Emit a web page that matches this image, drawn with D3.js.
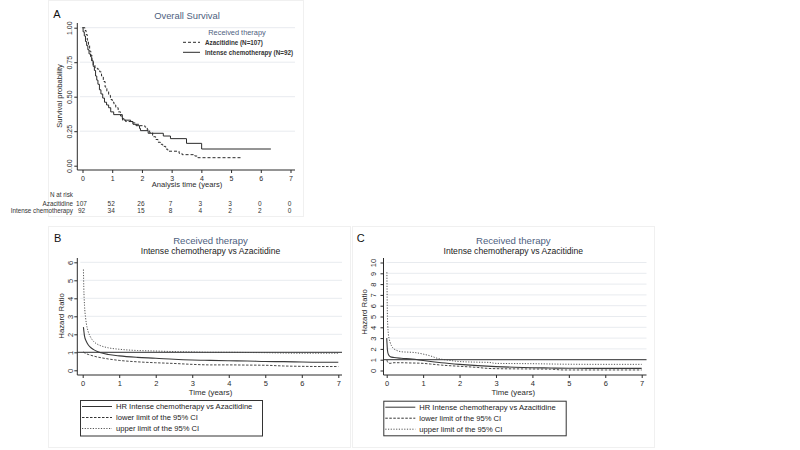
<!DOCTYPE html>
<html><head><meta charset="utf-8">
<script src="https://cdnjs.cloudflare.com/ajax/libs/d3/7.8.5/d3.min.js"></script>
<style>
html,body{margin:0;padding:0;background:#fff;}
svg{display:block;font-family:"Liberation Sans",Arial,sans-serif;}
</style></head>
<body>
<svg id="c" width="800" height="450"></svg>
<script>
// ---------- DATA ----------
// Panel A: Kaplan-Meier survival (time in years, survival probability)
const azaTime = [0,0.05,0.08,0.12,0.16,0.2,0.24,0.28,0.32,0.36,0.42,0.5,0.58,0.64,0.7,0.76,0.82,0.88,0.94,1.0,1.06,1.12,1.2,1.28,1.35,1.45,1.66,1.8,1.94,2.1,2.18,2.26,2.36,2.46,2.54,2.62,2.7,2.8,2.87,3.25,3.35,3.78,3.88,5.33];
const azaSurv = [1,1,0.98,0.95,0.91,0.87,0.83,0.8,0.76,0.73,0.71,0.7,0.68,0.65,0.61,0.57,0.54,0.51,0.48,0.46,0.44,0.42,0.39,0.36,0.33,0.32,0.31,0.3,0.29,0.28,0.26,0.24,0.21,0.19,0.17,0.155,0.14,0.12,0.105,0.09,0.08,0.07,0.058,0.058];
const icTime = [0,0.02,0.06,0.1,0.14,0.18,0.22,0.27,0.31,0.36,0.4,0.44,0.48,0.52,0.57,0.62,0.68,0.74,0.81,0.88,0.95,1.05,1.34,1.4,1.62,1.7,1.8,1.92,1.95,2.21,2.72,2.96,3.5,4.01,6.34];
const icSurv = [1,0.97,0.94,0.9,0.87,0.84,0.81,0.79,0.76,0.72,0.69,0.65,0.62,0.59,0.55,0.52,0.49,0.46,0.44,0.42,0.39,0.37,0.34,0.33,0.32,0.3,0.29,0.27,0.254,0.235,0.215,0.196,0.162,0.121,0.121];
const riskTimes = [0,1,2,3,4,5,6,7];
const riskAza = [107,52,26,7,3,3,0,0];
const riskIC = [92,34,15,8,4,2,2,0];
const yTicksA = [0,0.25,0.5,0.75,1];
const xTicks = [0,1,2,3,4,5,6,7];

// Panel B: hazard ratio over time
const bTime = [0.02,0.05,0.1,0.15,0.2,0.3,0.4,0.5,0.7,1.0,1.5,2.0,2.5,3.0,3.5,4.0,4.5,5.0,5.5,6.0,6.5,7.0];
const bHR   = [2.4,1.9,1.6,1.42,1.3,1.15,1.04,0.97,0.88,0.8,0.72,0.67,0.61,0.57,0.55,0.53,0.52,0.49,0.48,0.46,0.45,0.45];
const bLow  = [1.02,0.97,0.92,0.88,0.85,0.79,0.74,0.7,0.63,0.55,0.47,0.42,0.38,0.33,0.3,0.3,0.29,0.28,0.24,0.22,0.21,0.21];
const bUpTime = [0.02,0.03,0.05,0.08,0.1,0.15,0.2,0.3,0.4,0.5,0.7,1.0,1.5,2.0,2.5,3.0,3.5,4.0,4.5,5.0,5.5,6.0,6.5,7.0];
const bUp   = [5.6,4.6,3.6,2.9,2.6,2.15,1.9,1.6,1.45,1.36,1.25,1.17,1.1,1.07,1.04,1.02,1.0,1.0,0.99,0.98,0.96,0.95,0.95,0.95];
const yTicksB = [0,1,2,3,4,5,6];

// Panel C: hazard ratio over time
const cTime = [0.0,0.01,0.02,0.05,0.1,0.2,0.4,0.7,1.0,1.5,2.0,2.5,3.0,3.5,4.0,4.5,5.0,5.5,6.0,6.5,7.0];
const cHR   = [3.0,2.4,1.9,1.45,1.28,1.2,1.13,1.06,0.92,0.72,0.57,0.45,0.36,0.3,0.26,0.23,0.21,0.2,0.2,0.2,0.2];
const cUpTime = [0.005,0.01,0.015,0.02,0.03,0.045,0.07,0.09,0.13,0.18,0.25,0.32,0.45,0.6,0.8,1.0,1.2,1.4,1.7,2.0,2.5,2.8,3.0,4.0,5.0,6.0,7.0];
const cUp   = [9.1,7.5,6.0,5.0,4.1,3.4,2.9,2.65,2.3,2.05,1.9,1.8,1.72,1.7,1.65,1.52,1.35,1.12,0.95,0.83,0.77,0.75,0.66,0.63,0.58,0.57,0.57];
const cLowTime = [0.005,0.02,0.05,0.09,0.2,0.4,0.6,0.9,1.2,1.5,2.0,2.5,2.75,3.0,4.0,4.5,4.85,5.5,6.0,7.0];
const cLow  = [0.97,0.82,0.7,0.66,0.72,0.72,0.7,0.68,0.6,0.5,0.39,0.28,0.2,0.17,0.14,0.12,0.05,0.05,0.05,0.05];
const yTicksC = [0,1,2,3,4,5,6,7,8,9,10];

const legendB = ["HR Intense chemotherapy vs Azacitidine","lower limit of the 95% CI","upper limit of the 95% CI"];

// ---------- DRAW ----------
const svg = d3.select("#c");
const SLATE = "#4e6180", INK = "#2b2b2b", GRID = "#e8ebef", FRAME = "#f0f0f0";

// faint panel frames
[[48,0,255,216],[48,226,302,221],[352,226,302,221]].forEach(r=>{
  svg.append("rect").attr("x",r[0]+0.5).attr("y",r[1]+0.5).attr("width",r[2]).attr("height",r[3])
    .attr("fill","none").attr("stroke",FRAME);
});

function axes(g, x, y, o){
  g.append("g").selectAll("line").data(o.grid).join("line")
    .attr("x1",o.gx0).attr("x2",o.gx1).attr("y1",d=>y(d)).attr("y2",d=>y(d))
    .attr("stroke",GRID).attr("stroke-width",1);
  const ya = g.append("g").attr("transform",`translate(${o.ax},0)`)
    .call(d3.axisLeft(y).tickValues(o.yTicks).tickSize(3).tickSizeOuter(0).tickFormat(o.yFmt));
  ya.select(".domain").remove();
  ya.selectAll("line").attr("stroke",INK);
  ya.selectAll("text").attr("transform","rotate(-90)").attr("x",0).attr("y",o.yLab).attr("dy",0)
    .style("text-anchor","middle").attr("font-size",o.tfs).attr("fill",INK);
  g.append("line").attr("x1",o.ax).attr("x2",o.ax).attr("y1",o.top).attr("y2",o.ay).attr("stroke",INK);
  const xa = g.append("g").attr("transform",`translate(0,${o.ay})`)
    .call(d3.axisBottom(x).tickValues(xTicks).tickSize(3).tickSizeOuter(0).tickFormat(d3.format("d")));
  xa.select(".domain").remove();
  xa.selectAll("line").attr("stroke",INK);
  xa.selectAll("text").attr("y",o.xLab).attr("dy",0).attr("font-size",o.tfs).attr("fill",INK);
  g.append("line").attr("x1",o.ax).attr("x2",o.right).attr("y1",o.ay).attr("y2",o.ay).attr("stroke",INK);
  g.append("text").attr("x",o.xtX).attr("y",o.xtY).attr("text-anchor","middle")
    .attr("font-size",o.afs).attr("fill",INK).text(o.xTitle);
  g.append("text").attr("transform",`translate(${o.ytX},${o.ytY}) rotate(-90)`).attr("text-anchor","middle")
    .attr("font-size",o.afs).attr("fill",INK).text(o.yTitle);
}

// ===== Panel A =====
{
  const g = svg.append("g");
  const x = d3.scaleLinear().domain([0,7]).range([82.5,290.5]);
  const y = d3.scaleLinear().domain([0,1]).range([165.7,27.7]);
  axes(g,x,y,{grid:[0.25,0.5,0.75,1],gx0:80,gx1:295,ax:77.3,ay:170,top:23,right:295,
    yTicks:yTicksA,yFmt:d3.format(".2f"),yLab:-5.5,xLab:10.5,tfs:7,afs:7.6,
    xTitle:"Analysis time (years)",xtX:187,xtY:186.5,yTitle:"Survival probability",ytX:62,ytY:96});
  const line = d3.line().x(d=>x(d[0])).y(d=>y(d[1])).curve(d3.curveStepAfter);
  g.append("path").datum(d3.zip(icTime,icSurv)).attr("d",line)
    .attr("fill","none").attr("stroke",INK).attr("stroke-width",1);
  g.append("path").datum(d3.zip(azaTime,azaSurv)).attr("d",line)
    .attr("fill","none").attr("stroke",INK).attr("stroke-width",1).attr("stroke-dasharray","3,2");
  g.append("text").attr("x",57).attr("y",18).attr("text-anchor","middle").attr("font-size",11).attr("fill","#111").text("A");
  g.append("text").attr("x",187).attr("y",18.5).attr("text-anchor","middle").attr("font-size",9.4).attr("fill",SLATE).text("Overall Survival");
  g.append("text").attr("x",237).attr("y",34.5).attr("text-anchor","middle").attr("font-size",7.4).attr("fill",SLATE).text("Received therapy");
  const leg = [["Azacitidine (N=107)","3,2"],["Intense chemotherapy (N=92)",null]];
  leg.forEach((L,i)=>{
    const yy = 42.3 + i*10;
    const ln = g.append("line").attr("x1",183).attr("x2",200).attr("y1",yy).attr("y2",yy).attr("stroke",INK);
    if(L[1]) ln.attr("stroke-dasharray",L[1]);
    g.append("text").attr("x",205).attr("y",yy+2.3).attr("font-size",6.3).attr("font-weight","bold").attr("fill","#333").text(L[0]);
  });
  g.append("text").attr("x",73).attr("y",197.3).attr("text-anchor","end").attr("font-size",6.3).attr("fill","#333").text("N at risk");
  g.append("text").attr("x",73).attr("y",205.5).attr("text-anchor","end").attr("font-size",6.3).attr("fill","#333").text("Azacitidine");
  g.append("text").attr("x",73).attr("y",213.3).attr("text-anchor","end").attr("font-size",6.3).attr("fill","#333").text("Intense chemotherapy");
  g.append("g").selectAll("text").data(d3.zip(riskTimes,riskAza)).join("text")
    .attr("x",d=>x(d[0])-1).attr("y",205.5).attr("text-anchor","middle").attr("font-size",6.5).attr("fill","#333").text(d=>d[1]);
  g.append("g").selectAll("text").data(d3.zip(riskTimes,riskIC)).join("text")
    .attr("x",d=>x(d[0])-1).attr("y",213.3).attr("text-anchor","middle").attr("font-size",6.5).attr("fill","#333").text(d=>d[1]);
}

// ===== HR panels =====
function hrPanel(o){
  const g = svg.append("g");
  const x = d3.scaleLinear().domain([0,7]).range(o.xr);
  const y = d3.scaleLinear().domain([0,o.ymax]).range(o.yr);
  axes(g,x,y,{grid:o.yTicks.filter(v=>v>0),gx0:o.ax+3,gx1:o.right,ax:o.ax,ay:375,top:258,right:o.right,
    yTicks:o.yTicks,yFmt:d3.format("d"),yLab:o.yLab,xLab:10.5,tfs:7.5,afs:7.8,
    xTitle:"Time (years)",xtX:o.cx,xtY:395,yTitle:"Hazard Ratio",ytX:o.ytX,ytY:o.ytY});
  g.append("line").attr("x1",o.ax).attr("x2",o.right).attr("y1",y(1)).attr("y2",y(1)).attr("stroke","#333").attr("stroke-width",1);
  const line = d3.line().x(d=>x(d[0])).y(d=>y(d[1])).curve(d3.curveMonotoneX);
  g.append("path").datum(d3.zip(o.lowT,o.low)).attr("d",line).attr("fill","none").attr("stroke","#333").attr("stroke-width",0.9).attr("stroke-dasharray","2.5,1.5");
  g.append("path").datum(d3.zip(o.upT,o.up)).attr("d",line).attr("fill","none").attr("stroke","#444").attr("stroke-width",0.9).attr("stroke-dasharray","1.2,1.5");
  g.append("path").datum(d3.zip(o.hrT,o.hr)).attr("d",line).attr("fill","none").attr("stroke","#3a3a3a").attr("stroke-width",1.1);
  g.append("text").attr("x",o.lx).attr("y",242).attr("text-anchor","middle").attr("font-size",11).attr("fill","#111").text(o.letter);
  g.append("text").attr("x",o.cx).attr("y",243.5).attr("text-anchor","middle").attr("font-size",9.6).attr("fill",SLATE).text("Received therapy");
  g.append("text").attr("x",o.cx).attr("y",254).attr("text-anchor","middle").attr("font-size",8.6).attr("fill","#222").text("Intense chemotherapy vs Azacitidine");
  const [bx,by,bw,bh] = o.leg;
  g.append("rect").attr("x",bx+0.5).attr("y",by+0.5).attr("width",bw).attr("height",bh).attr("fill","#fff").attr("stroke","#333");
  const dashes = [null,"2.5,1.5","1.2,1.5"];
  legendB.forEach((t,i)=>{
    const yy = by + 6.5 + i*11;
    const ln = g.append("line").attr("x1",bx+2).attr("x2",bx+32).attr("y1",yy).attr("y2",yy).attr("stroke",i==2?"#555":"#333");
    if(dashes[i]) ln.attr("stroke-dasharray",dashes[i]);
    g.append("text").attr("x",bx+36).attr("y",yy+2.7).attr("font-size",7.6).attr("fill","#222").text(t);
  });
}

hrPanel({letter:"B",lx:57.7,cx:210.5,xr:[82.7,338.3],yr:[370.3,262.3],ymax:6,yTicks:yTicksB,ax:77.3,right:342,yLab:-4.5,ytX:63.5,ytY:316,
  hrT:bTime,hr:bHR,lowT:bTime,low:bLow,upT:bUpTime,up:bUp,leg:[80,400,182,35.5]});
hrPanel({letter:"C",lx:360.7,cx:513.3,xr:[386.7,641.7],yr:[370.5,262.5],ymax:10,yTicks:yTicksC,ax:383.5,right:646.5,yLab:-8,ytX:366.5,ytY:312,
  hrT:cTime,hr:cHR,lowT:cLowTime,low:cLow,upT:cUpTime,up:cUp,leg:[383.3,400.7,182.4,34.6]});
</script>
</body></html>
